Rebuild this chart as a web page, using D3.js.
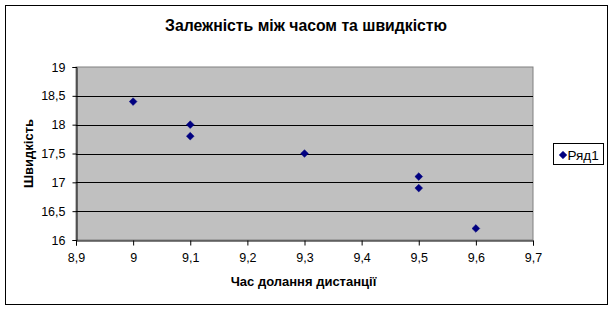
<!DOCTYPE html>
<html>
<head>
<meta charset="utf-8">
<script src="https://cdn.jsdelivr.net/npm/d3@7"></script>
<style>
  body { margin: 0; background: #fff; }
  text { font-family: "Liberation Sans", Arial, sans-serif; }
</style>
</head>
<body>
<div id="chart"></div>
<script>
// values
const times = [9, 9.1, 9.1, 9.3, 9.5, 9.5, 9.6];
const speeds = [18.4, 18, 17.8, 17.5, 17.1, 16.9, 16.2];
const xTicks = [8.9, 9, 9.1, 9.2, 9.3, 9.4, 9.5, 9.6, 9.7];
const yTicks = [16, 16.5, 17, 17.5, 18, 18.5, 19];
const seriesName = "Ряд1";

const data = times.map((t, i) => ({ t: t, v: speeds[i] }));

const width = 614, height = 310;
const margin = { top: 67, right: 81, bottom: 70, left: 76 };
const fmt = d => String(d).replace(".", ",");

let svg = d3.select("#chart")
    .append("svg")
    .attr("width", width)
    .attr("height", height);

// outer frame
svg.append("rect")
    .attr("x", 5.5).attr("y", 5.5)
    .attr("width", 602).attr("height", 299)
    .attr("fill", "#fff")
    .attr("stroke", "#000");

let x = d3.scaleLinear()
    .domain([8.9, 9.7])
    .range([margin.left, width - margin.right]);

let y = d3.scaleLinear()
    .domain([16, 19])
    .range([height - margin.bottom, margin.top]);

// plot area
svg.append("rect")
    .attr("x", x(8.9)).attr("y", y(19))
    .attr("width", x(9.7) - x(8.9)).attr("height", y(16) - y(19))
    .attr("fill", "#c0c0c0")
    .attr("stroke", "#808080");

// grid lines
svg.append("g")
    .selectAll("line")
    .data(yTicks.slice(1, -1))
    .join("line")
    .attr("x1", x(8.9)).attr("x2", x(9.7))
    .attr("y1", d => Math.round(y(d)) + 0.5)
    .attr("y2", d => Math.round(y(d)) + 0.5)
    .attr("stroke", "#000");

let xAxis = svg.append("g")
    .attr("transform", `translate(0,${Math.round(y(16)) + 0.5})`)
    .call(d3.axisBottom(x).tickValues(xTicks).tickFormat(fmt).tickSizeOuter(0).tickSize(5).tickPadding(8));

let yAxis = svg.append("g")
    .attr("transform", `translate(${Math.round(x(8.9)) + 0.5},0)`)
    .call(d3.axisLeft(y).tickValues(yTicks).tickFormat(fmt).tickSizeOuter(0).tickSize(4).tickPadding(7));

[xAxis, yAxis].forEach(a => {
    a.selectAll("path, line").attr("stroke", "#000");
    a.selectAll("text")
        .attr("fill", "#000")
        .style("font-size", "12.5px")
        .style("font-family", "'Liberation Sans', Arial, sans-serif");
});

// markers
const diamond = d3.symbol().type(d3.symbolDiamond2).size(38);
svg.append("g")
    .selectAll("path")
    .data(data)
    .join("path")
    .attr("d", diamond)
    .attr("transform", d => `translate(${x(d.t)},${y(d.v)})`)
    .attr("fill", "#000080")
    .attr("stroke", "#000080")
    .attr("stroke-width", 0.5);

// title and axis labels
svg.append("text")
    .attr("x", 306).attr("y", 31)
    .attr("text-anchor", "middle")
    .attr("textLength", 282)
    .attr("lengthAdjust", "spacingAndGlyphs")
    .style("font-size", "17px").style("font-weight", "bold")
    .text("Залежність між часом та швидкістю");

svg.append("text")
    .attr("x", 303.5).attr("y", 286)
    .attr("text-anchor", "middle")
    .style("font-size", "13px").style("font-weight", "bold")
    .text("Час долання дистанції");

svg.append("text")
    .attr("transform", `translate(33,${(y(16) + y(19)) / 2}) rotate(-90)`)
    .attr("text-anchor", "middle")
    .style("font-size", "13px").style("font-weight", "bold")
    .text("Швидкість");

// legend
let legend = svg.append("g");
legend.append("rect")
    .attr("x", 553.5).attr("y", 143.5)
    .attr("width", 50).attr("height", 21)
    .attr("fill", "#fff").attr("stroke", "#000");
legend.append("path")
    .attr("d", diamond)
    .attr("transform", "translate(563,155)")
    .attr("fill", "#000080").attr("stroke", "#000080").attr("stroke-width", 0.5);
legend.append("text")
    .attr("x", 567.5).attr("y", 159.5)
    .style("font-size", "13.5px")
    .text(seriesName);
</script>
</body>
</html>
